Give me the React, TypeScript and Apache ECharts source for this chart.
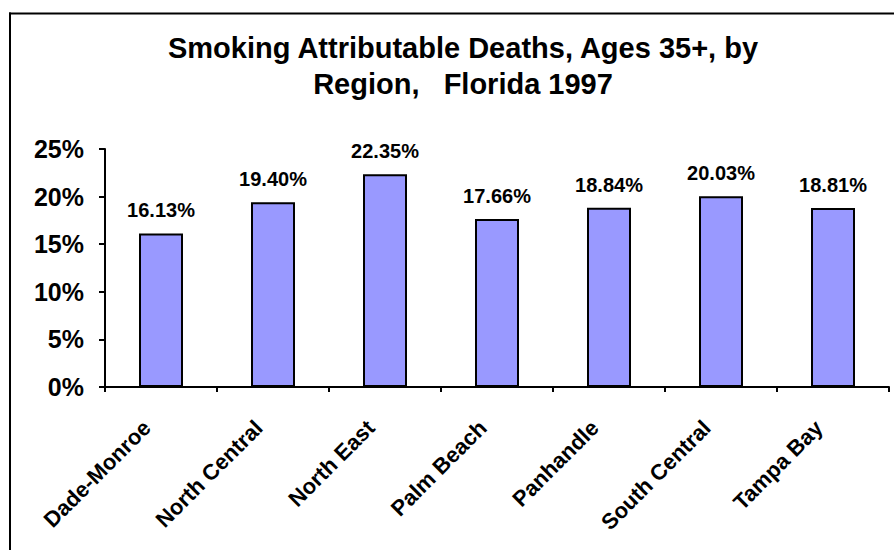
import React, { useEffect, useRef } from "react";
import * as echarts from "echarts";

const categories = ["Dade-Monroe", "North Central", "North East", "Palm Beach", "Panhandle", "South Central", "Tampa Bay"];
const values = [16.13, 19.4, 22.35, 17.66, 18.84, 20.03, 18.81];
const titleLines = ["Smoking Attributable Deaths, Ages 35+, by", "Region,   Florida 1997"];

const FONT = "'Liberation Sans', Arial, sans-serif";

export default function App() {
  const ref = useRef<HTMLDivElement>(null);
  useEffect(() => {
    if (!ref.current) return;
    const chart = echarts.init(ref.current, null, { renderer: "svg" });
    chart.setOption({
      animation: false,
      backgroundColor: "#ffffff",
      title: {
        text: titleLines.join("\n"),
        left: 458,
        top: 25,
        textAlign: "center",
        textStyle: { fontFamily: FONT, fontSize: 29, fontWeight: "bold", color: "#000", lineHeight: 36 },
      },
      graphic: [
        {
          type: "line",
          shape: { x1: 9, y1: 13.5, x2: 894, y2: 13.5 },
          style: { stroke: "#000", lineWidth: 2 },
          silent: true,
        },
        {
          type: "line",
          shape: { x1: 10, y1: 12.5, x2: 10, y2: 550 },
          style: { stroke: "#000", lineWidth: 2 },
          silent: true,
        },
      ],
      grid: { left: 105, right: 5, top: 149, bottom: 163, containLabel: false },
      xAxis: {
        type: "category",
        data: categories,
        axisLine: { lineStyle: { color: "#000", width: 2 } },
        axisTick: { show: true, length: 5, lineStyle: { color: "#000", width: 2 } },
        axisLabel: {
          rotate: 45,
          interval: 0,
          margin: 23,
          fontFamily: FONT,
          fontSize: 22,
          fontWeight: "bold",
          color: "#000",
          padding: [0, 20, 0, 0],
        },
      },
      yAxis: {
        type: "value",
        min: 0,
        max: 25,
        interval: 5,
        splitLine: { show: false },
        axisLine: { show: true, lineStyle: { color: "#000", width: 2 } },
        axisTick: { show: true, length: 6, lineStyle: { color: "#000", width: 2 } },
        axisLabel: {
          formatter: "{value}%",
          margin: 21,
          fontFamily: FONT,
          fontSize: 25,
          fontWeight: "bold",
          color: "#000",
        },
      },
      series: [
        {
          type: "bar",
          data: values,
          barWidth: 44,
          itemStyle: { color: "#9999FF", borderColor: "#000", borderWidth: 2 },
          label: {
            show: true,
            position: "top",
            distance: 13,
            formatter: (p: any) => p.value.toFixed(2) + "%",
            fontFamily: FONT,
            fontSize: 20,
            fontWeight: "bold",
            color: "#000",
          },
        },
      ],
    });
    return () => chart.dispose();
  }, []);
  return <div ref={ref} style={{ width: 894, height: 550, position: "absolute", left: 0, top: 0 }} />;
}
